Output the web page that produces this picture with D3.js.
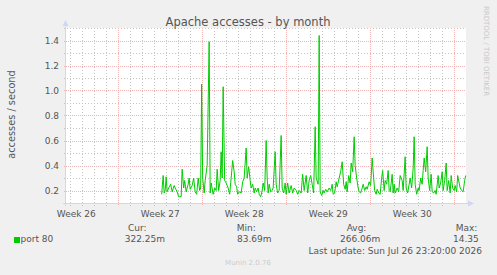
<!DOCTYPE html>
<html lang="en">
<head>
  <meta charset="UTF-8">
  <title>Apache accesses - by month</title>
  <script src="https://d3js.org/d3.v7.min.js"></script>
  <style>
    body { margin: 0; background: #f0f0f0; }
    svg { display: block; }
    text { font-family: "DejaVu Sans", sans-serif; fill: #555; }
    .minor { stroke: #c4c4c4; stroke-width: 1px; stroke-dasharray: 1,2; }
    .major { stroke: #f0b4b4; stroke-width: 1px; stroke-dasharray: 1,1; }
    .axis { stroke: #cfd6f8; stroke-width: 1px; }
  </style>
</head>
<body>
  <script>
    // chart data
    const weekLabels = ["Week 26", "Week 27", "Week 28", "Week 29", "Week 30"];
    const weekStarts = ["2026-06-21", "2026-06-28", "2026-07-05", "2026-07-12", "2026-07-19"];
    const yTicks = [0.2, 0.4, 0.6, 0.8, 1.0, 1.2, 1.4];

    // samples: hours after seriesStart, and accesses per second
    const sampleHours = [
      0, 3, 5, 7, 9, 11, 14, 18, 21, 25, 27, 31, 34, 39, 41, 44, 46, 49, 53, 55,
      57, 61, 64, 67, 70, 73, 76, 78, 80, 82, 85, 87, 91, 95, 97, 99, 103, 106, 109, 111,
      114, 117, 119, 121, 123, 126, 129, 133, 136, 139, 142, 145, 147, 150, 152, 155, 159, 162, 165, 169,
      171, 174, 177, 179, 182, 185, 187, 190, 193, 195, 198, 201, 203, 206, 209, 211, 213, 215, 218, 221,
      223, 227, 229, 232, 235, 239, 241, 244, 247, 249, 252, 255, 259, 262, 265, 269, 272, 275, 279, 282,
      285, 289, 292, 295, 298, 301, 304, 307, 309, 313, 315, 317, 320, 323, 325, 328, 331, 335, 338, 341,
      343, 346, 349, 351, 355, 358, 361, 364, 367, 369, 371, 374, 377, 379, 382, 385, 387, 390, 393, 395,
      398, 401, 403, 406, 409, 411, 415, 418, 421, 423, 426, 429, 431, 434, 437, 440, 442, 445, 447, 450,
      453, 455, 457, 461, 463, 465, 467, 471, 474, 477, 481, 483, 487, 489, 492, 495, 497, 500, 503, 505,
      507, 510, 513, 515, 518, 521, 523, 525, 528, 531, 533, 536, 539, 541, 544, 547, 549, 553, 555, 558,
      561, 563, 566, 569, 571, 574, 577, 579, 582, 585, 587, 590, 592, 595, 597, 600, 603, 606, 608
    ];
    const accesses = [
      0.17, 0.32, 0.18, 0.20, 0.31, 0.19, 0.22, 0.25, 0.19, 0.24, 0.22, 0.19, 0.15, 0.15, 0.37, 0.22, 0.28, 0.19, 0.25, 0.30,
      0.21, 0.24, 0.30, 0.19, 0.17, 0.30, 0.20, 0.22, 1.05, 0.30, 0.18, 0.28, 0.40, 1.39, 0.18, 0.26, 0.17, 0.22, 0.20, 0.37,
      0.20, 0.28, 0.51, 0.30, 1.03, 0.28, 0.26, 0.22, 0.17, 0.30, 0.44, 0.35, 0.25, 0.23, 0.17, 0.19, 0.18, 0.27, 0.30, 0.54,
      0.30, 0.39, 0.28, 0.22, 0.25, 0.18, 0.22, 0.19, 0.22, 0.17, 0.15, 0.20, 0.26, 0.20, 0.60, 0.30, 0.18, 0.25, 0.19, 0.20,
      0.22, 0.51, 0.25, 0.18, 0.20, 0.64, 0.22, 0.18, 0.26, 0.17, 0.26, 0.18, 0.24, 0.18, 0.22, 0.20, 0.17, 0.20, 0.18, 0.33,
      0.20, 0.32, 0.18, 0.28, 0.32, 0.25, 0.18, 0.71, 0.30, 0.25, 1.44, 0.19, 0.16, 0.20, 0.18, 0.21, 0.19, 0.22, 0.20, 0.25,
      0.17, 0.18, 0.27, 0.23, 0.30, 0.35, 0.43, 0.25, 0.21, 0.27, 0.19, 0.32, 0.26, 0.42, 0.35, 0.63, 0.40, 0.30, 0.22, 0.19,
      0.18, 0.22, 0.25, 0.20, 0.23, 0.21, 0.27, 0.24, 0.46, 0.35, 0.20, 0.17, 0.21, 0.18, 0.17, 0.30, 0.36, 0.20, 0.28, 0.25,
      0.36, 0.20, 0.19, 0.33, 0.18, 0.25, 0.18, 0.22, 0.19, 0.32, 0.28, 0.20, 0.47, 0.22, 0.18, 0.25, 0.30, 0.22, 0.38, 0.63,
      0.25, 0.17, 0.22, 0.20, 0.30, 0.25, 0.36, 0.46, 0.35, 0.55, 0.30, 0.20, 0.33, 0.19, 0.18, 0.20, 0.17, 0.32, 0.22, 0.26,
      0.35, 0.20, 0.28, 0.42, 0.20, 0.28, 0.18, 0.32, 0.22, 0.20, 0.24, 0.19, 0.32, 0.26, 0.22, 0.20, 0.19, 0.28, 0.32
    ];

    const seriesName = "port 80";
    const legendHeads = ["Cur:", "Min:", "Avg:", "Max:"];
    const legendValues = ["322.25m", "83.69m", "266.06m", "14.35"];
    const lastUpdate = "Last update: Sun Jul 26 23:20:00 2026";

    const seriesStart = new Date(2026, 6, 1, 14, 40);
    const graphEnd = new Date(2026, 6, 26, 23, 20);
    const graphStart = d3.timeHour.offset(graphEnd, -800);

    const width = 497, height = 275;
    const plotLeft = 66, plotRight = 466, plotTop = 28, plotBottom = 203;

    const svg = d3.select("body").append("svg")
      .attr("width", width)
      .attr("height", height);

    const x = d3.scaleTime().domain([graphStart, graphEnd]).range([plotLeft, plotRight]);
    const y = d3.scaleLinear().domain([0.1, 1.5]).range([plotBottom, plotTop]);

    // canvas
    svg.append("rect")
      .attr("x", plotLeft).attr("y", plotTop)
      .attr("width", plotRight - plotLeft).attr("height", plotBottom - plotTop)
      .attr("fill", "#fff");

    const px = v => Math.round(v) + 0.5;

    // horizontal grid
    const minorY = d3.range(0.1, 1.51, 0.1).map(v => +v.toFixed(1))
      .filter(v => !yTicks.includes(v));
    svg.selectAll(".hminor").data(minorY).enter().append("line")
      .attr("class", "minor")
      .attr("x1", plotLeft - 2).attr("x2", plotRight)
      .attr("y1", d => px(y(d))).attr("y2", d => px(y(d)));
    svg.selectAll(".hmajor").data(yTicks).enter().append("line")
      .attr("class", "major")
      .attr("x1", plotLeft - 2).attr("x2", plotRight)
      .attr("y1", d => px(y(d))).attr("y2", d => px(y(d)));

    // vertical grid: days and weeks
    const days = d3.timeDay.range(d3.timeDay.ceil(graphStart), graphEnd);
    svg.selectAll(".vgrid").data(days).enter().append("line")
      .attr("class", d => d.getDay() === 0 ? "major" : "minor")
      .attr("x1", d => px(x(d))).attr("x2", d => px(x(d)))
      .attr("y1", plotTop).attr("y2", plotBottom + 3);

    // axes with arrows
    svg.append("line").attr("class", "axis")
      .attr("x1", plotLeft - 3).attr("x2", plotRight + 3)
      .attr("y1", plotBottom + 0.5).attr("y2", plotBottom + 0.5);
    svg.append("line").attr("class", "axis")
      .attr("x1", plotLeft - 0.5).attr("x2", plotLeft - 0.5)
      .attr("y1", plotBottom + 3).attr("y2", plotTop - 4);
    svg.append("path")
      .attr("d", `M${plotRight + 2},${plotBottom - 2.5}L${plotRight + 8},${plotBottom + 0.5}L${plotRight + 2},${plotBottom + 3.5}Z`)
      .attr("fill", "#cfd6f8");
    svg.append("path")
      .attr("d", `M${plotLeft - 3.5},${plotTop - 2}L${plotLeft - 0.5},${plotTop - 8}L${plotLeft + 2.5},${plotTop - 2}Z`)
      .attr("fill", "#cfd6f8");

    // y tick labels
    svg.selectAll(".ylab").data(yTicks).enter().append("text")
      .attr("x", plotLeft - 7)
      .attr("y", d => y(d) + 3.5)
      .attr("text-anchor", "end")
      .attr("font-size", "9px")
      .text(d3.format(".1f"));

    // week labels, centred in their week
    const parseDay = d3.timeParse("%Y-%m-%d");
    svg.selectAll(".xlab").data(weekLabels).enter().append("text")
      .attr("x", (d, i) => x(d3.timeHour.offset(parseDay(weekStarts[i]), 84)))
      .attr("y", 216.5)
      .attr("text-anchor", "middle")
      .attr("font-size", "9px")
      .text(d => d);

    // series
    const points = sampleHours.map((h, i) => [d3.timeMinute.offset(seriesStart, h * 60), accesses[i]]);
    svg.append("path")
      .datum(points)
      .attr("fill", "none")
      .attr("stroke", "#00cc00")
      .attr("stroke-width", 1)
      .attr("d", d3.line().x(d => x(d[0])).y(d => y(d[1])));

    // title and side texts
    svg.append("text")
      .attr("x", 248).attr("y", 25.5)
      .attr("text-anchor", "middle")
      .attr("font-size", "11.5px")
      .text("Apache accesses - by month");

    svg.append("text")
      .attr("transform", "translate(15,114.5) rotate(-90)")
      .attr("text-anchor", "middle")
      .attr("font-size", "9.8px")
      .text("accesses / second");

    svg.append("text")
      .attr("transform", "translate(484,51) rotate(90)")
      .attr("text-anchor", "middle")
      .attr("font-size", "7px")
      .style("fill", "#c8c8c8")
      .text("RRDTOOL / TOBI OETIKER");

    // legend
    const headX = [128, 236.7, 346.7, 455.7];
    const valueX = [124.7, 237, 340, 453];
    svg.append("rect")
      .attr("x", 14).attr("y", 237)
      .attr("width", 6).attr("height", 6)
      .attr("fill", "#00cc00");
    svg.append("text")
      .attr("x", 20.5).attr("y", 242.3)
      .attr("font-size", "9px")
      .text(seriesName);
    svg.selectAll(".lhead").data(legendHeads).enter().append("text")
      .attr("x", (d, i) => headX[i]).attr("y", 230.7)
      .attr("font-size", "9px")
      .text(d => d);
    svg.selectAll(".lval").data(legendValues).enter().append("text")
      .attr("x", (d, i) => valueX[i]).attr("y", 242.3)
      .attr("font-size", "9px")
      .text(d => d);
    svg.append("text")
      .attr("x", 482).attr("y", 254.3)
      .attr("text-anchor", "end")
      .attr("font-size", "9px")
      .text(lastUpdate);
    svg.append("text")
      .attr("x", 248).attr("y", 265)
      .attr("text-anchor", "middle")
      .attr("font-size", "7px")
      .style("fill", "#cccccc")
      .text("Munin 2.0.76");
  </script>
</body>
</html>
